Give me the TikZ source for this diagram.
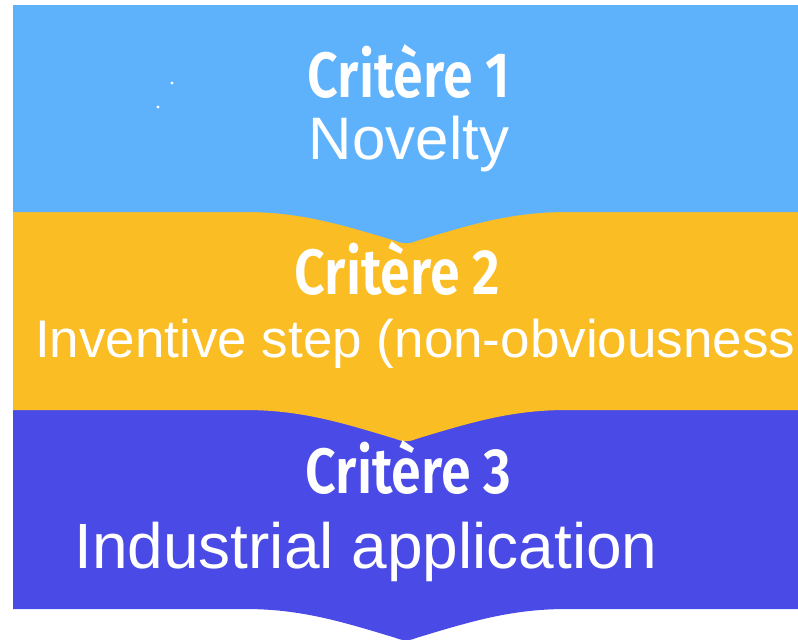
\documentclass[tikz,border=0pt]{standalone}
\usepackage{fontspec}
\setmainfont{Liberation Sans}
\newfontfamily\titlefont[FakeStretch=0.84]{Fira Sans SemiBold}
\definecolor{bandblue}{HTML}{5EB1FB}
\definecolor{bandyellow}{HTML}{FBBD24}
\definecolor{bandpurple}{HTML}{4A4BE6}
\tikzset{
  ttl/.style={text=white, inner sep=0pt, anchor=base, font=\titlefont\fontsize{64}{64}\selectfont},
  body/.style={text=white, inner sep=0pt, anchor=base},
}
\newcommand{\bandpath}[2]{% top, straight bottom
  (13,#1) -- (799,#1) -- (799,#2) -- (567,#2)
  .. controls (512,#2) and (472,#2+12) .. (416,#2+29)
  .. controls (409,#2+32) and (403,#2+32) .. (396,#2+29)
  .. controls (340,#2+12) and (300,#2) .. (245,#2)
  -- (13,#2) -- cycle}
\begin{document}
\begin{tikzpicture}[x=1pt,y=-1pt]
\useasboundingbox (0,0) rectangle (798,640);
\clip (0,0) rectangle (798,640);
\fill[bandpurple] \bandpath{405}{609};
\fill[bandyellow] \bandpath{205}{410};
\fill[bandblue] \bandpath{5}{212};
\fill[white] (172,83) circle (1.6) coordinate (d1);
\fill[white] (158,107) circle (1.6) coordinate (d2);
\node[ttl] (t1) at (409,97) {Critère 1};
\node[body, font=\fontsize{60}{60}\selectfont] (b1) at (409,159) {Novelty};
\node[ttl] (t2) at (397.5,294) {Critère 2};
\node[body, anchor=base west, font=\fontsize{53}{53}\selectfont] (b2) at (35,357) {Inventive step (non-obviousness};
\node[ttl] (t3) at (408.5,493) {Critère 3};
\node[body, font=\fontsize{64}{64}\selectfont] (b3) at (366,568) {Industrial application};
\end{tikzpicture}
\end{document}
